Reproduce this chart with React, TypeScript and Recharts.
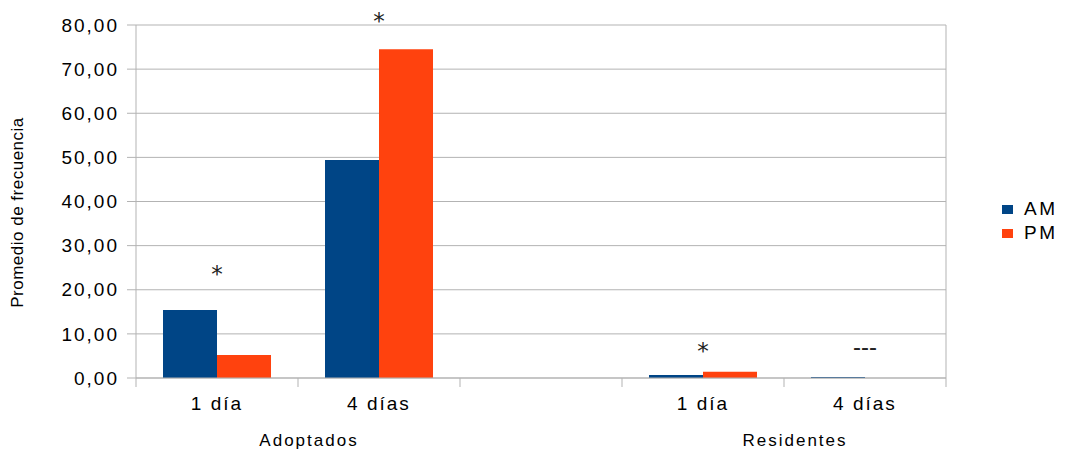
import React from 'react';
import { ComposedChart, Bar, Scatter, XAxis, YAxis, CartesianGrid, Legend } from 'recharts';

const categories = ['1 día', '4 días', '', '1 día', '4 días'];
const groups = ['Adoptados', 'Adoptados', '', 'Residentes', 'Residentes'];
const amValues = [15.4, 49.4, null, 0.7, 0.25];
const pmValues = [5.2, 74.5, null, 1.4, 0];
const marks = ['*', '*', '', '*', '---'];
const markLevels = [21.8, 79.2, null, 4.2, 5.3];
const yTicks = [0, 10, 20, 30, 40, 50, 60, 70, 80];

const seriesNames = ['AM', 'PM'];
const seriesColors = ['#004586', '#ff420e'];

const data = categories.map((c, i) => ({
  cat: c,
  group: groups[i],
  AM: amValues[i],
  PM: pmValues[i],
  mark: marks[i],
  markLevel: markLevels[i],
}));

const FONT = '"Liberation Sans", Arial, sans-serif';
const GRID = '#b3b3b3';

const CatTick = (props: any) => {
  const { x, y, payload, index, visibleTicksCount } = props;
  const half = (payload && payload.offset) || 81;
  const axisY = y - 19;
  return (
    <g>
      <line x1={x - half} x2={x - half} y1={axisY} y2={axisY + 9} stroke={GRID} />
      {index === visibleTicksCount - 1 && (
        <line x1={x + half} x2={x + half} y1={axisY} y2={axisY + 9} stroke={GRID} />
      )}
      {payload && payload.value ? (
        <text x={x} y={y} dy="0.71em" textAnchor="middle" fontFamily={FONT} fontSize={19} letterSpacing={2} fill="#000">
          {payload.value}
        </text>
      ) : null}
    </g>
  );
};

const GroupTick = (props: any) => {
  const { x, y, payload, index } = props;
  if (!payload || !payload.value) return null;
  if (index > 0 && groups[index - 1] === payload.value) return null;
  const half = payload.offset || 81;
  return (
    <text x={x + half + 11} y={y} dy="0.71em" textAnchor="middle" fontFamily={FONT} fontSize={17} letterSpacing={2} fill="#000">
      {payload.value}
    </text>
  );
};

const MarkShape = (props: any) => {
  const { cx, cy, payload } = props;
  if (!payload || !payload.mark || cx == null || cy == null || isNaN(cy)) return null;
  const isStar = payload.mark === '*';
  return (
    <text
      x={cx}
      y={cy}
      textAnchor="middle"
      fontFamily={isStar ? '"DejaVu Sans", sans-serif' : FONT}
      fontSize={isStar ? 23 : 24}
      fill="#222"
    >
      {payload.mark}
    </text>
  );
};

const YTitle = (props: any) => {
  const vb = props.viewBox || { x: 0, y: 0, width: 0, height: 0 };
  const cx = vb.x + 23;
  const cy = vb.y + vb.height / 2 + 11;
  return (
    <text x={cx} y={cy} transform={`rotate(-90, ${cx}, ${cy})`} textAnchor="middle" fontFamily={FONT} fontSize={17} letterSpacing={0.5} fill="#000">
      Promedio de frecuencia
    </text>
  );
};

const LegendContent = () => {
  return (
    <div style={{ paddingLeft: 56, fontFamily: FONT }}>
      {seriesNames.map((n, i) => (
        <div key={n} style={{ display: 'flex', alignItems: 'center', height: 24 }}>
          <div style={{ width: 11, height: 9, background: seriesColors[i], marginRight: 11 }} />
          <span style={{ fontSize: 19, letterSpacing: 2.5, color: '#000' }}>{n}</span>
        </div>
      ))}
    </div>
  );
};

export default function App() {
  return (
    <div style={{ position: 'absolute', left: 0, top: 0, width: 1065, height: 452, background: '#fff' }}>
      <ComposedChart
        width={1065}
        height={452}
        data={data}
        margin={{ top: 25, right: 0, left: 0, bottom: 0 }}
        barCategoryGap="16.67%"
        barGap={0}
      >
        <CartesianGrid
          stroke={GRID}
          vertical={true}
          horizontal={true}
          verticalCoordinatesGenerator={({ offset }: any) => [offset.left + offset.width]}
        />
        <XAxis
          xAxisId="cat"
          dataKey="cat"
          height={37}
          axisLine={{ stroke: GRID }}
          tickLine={false}
          tickSize={0}
          tickMargin={19}
          interval={0}
          tick={<CatTick />}
        />
        <XAxis
          xAxisId="grp"
          dataKey="group"
          height={37}
          axisLine={false}
          tickLine={false}
          tickSize={0}
          tickMargin={19}
          interval={0}
          tick={<GroupTick />}
        />
        <YAxis
          width={136}
          domain={[0, 80]}
          ticks={yTicks}
          tickFormatter={(v: number) => v.toFixed(2).replace('.', ',')}
          tick={{ fontSize: 19, fill: '#000', fontFamily: FONT, letterSpacing: 2 } as any}
          tickSize={9}
          tickMargin={8}
          axisLine={{ stroke: GRID }}
          tickLine={{ stroke: GRID }}
          label={{ content: <YTitle /> } as any}
        />
        <Legend
          layout="vertical"
          align="right"
          verticalAlign="middle"
          wrapperStyle={{ width: 119, top: 197 }}
          content={<LegendContent />}
        />
        <Bar xAxisId="cat" dataKey="AM" name="AM" fill={seriesColors[0]} isAnimationActive={false} />
        <Bar xAxisId="cat" dataKey="PM" name="PM" fill={seriesColors[1]} isAnimationActive={false} />
        <Scatter xAxisId="cat" dataKey="markLevel" shape={<MarkShape />} isAnimationActive={false} legendType="none" />
      </ComposedChart>
    </div>
  );
}
